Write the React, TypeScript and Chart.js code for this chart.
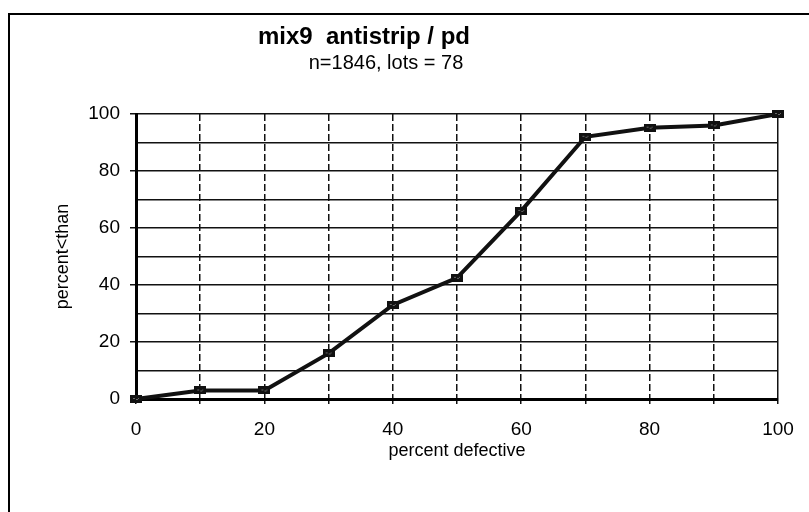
import React, { useEffect, useRef } from "react";
import { Chart, registerables } from "chart.js";

Chart.register(...registerables);

const chartTitle = "mix9  antistrip / pd";
const chartSubtitle = "n=1846, lots = 78";
const xAxisTitle = "percent defective";
const yAxisTitle = "percent<than";
const percentDefective = [0, 10, 20, 30, 40, 50, 60, 70, 80, 90, 100];
const percentLessThan = [0, 3, 3, 16, 33, 42.5, 66, 92, 95.2, 96, 100];
const labeledTicks = [0, 20, 40, 60, 80, 100];

const FONT = "'Liberation Sans', Arial, Helvetica, sans-serif";

function makeMarker(): HTMLCanvasElement {
  const c = document.createElement("canvas");
  c.width = 12;
  c.height = 8;
  const g = c.getContext("2d")!;
  g.fillStyle = "#111";
  g.fillRect(0, 0, 12, 8);
  g.fillStyle = "#666";
  g.fillRect(3, 3, 2, 1);
  g.fillRect(6, 4, 2, 1);
  g.fillRect(8, 3, 1, 1);
  return c;
}

export default function App() {
  const ref = useRef<HTMLCanvasElement | null>(null);

  useEffect(() => {
    if (!ref.current) return;
    const marker = makeMarker();
    const chart = new Chart(ref.current, {
      type: "line",
      data: {
        datasets: [
          {
            data: percentDefective.map((x, i) => ({ x, y: percentLessThan[i] })),
            borderColor: "#111",
            borderWidth: 4,
            pointStyle: marker as any,
            pointRadius: 6,
            tension: 0,
            clip: false as any,
          },
        ],
      },
      options: {
        responsive: false,
        animation: false,
        layout: { padding: { left: 0, right: 31, top: 114, bottom: 0 } },
        plugins: { legend: { display: false }, tooltip: { enabled: false }, title: { display: false } },
        scales: {
          x: {
            type: "linear",
            min: 0,
            max: 100,
            afterFit: (s: any) => {
              s.height = 113;
            },
            ticks: {
              stepSize: 10,
              color: "#000",
              padding: 14,
              maxRotation: 0,
              font: { family: FONT, size: 19 },
              callback: (v: any) => (labeledTicks.includes(Number(v)) ? String(v) : ""),
            },
            grid: {
              color: "#111",
              lineWidth: 1.5,
              tickLength: 5,
              tickColor: "#111",
            },
            border: {
              display: true,
              color: "#000",
              width: 3,
              dash: (ctx: any) => (ctx.tick && ctx.tick.value === 100 ? [] : [7, 3]),
            } as any,
            title: {
              display: true,
              text: xAxisTitle,
              color: "#000",
              font: { family: FONT, size: 18 },
              padding: { top: 0, bottom: 50 },
            },
          },
          y: {
            type: "linear",
            min: 0,
            max: 100,
            afterFit: (s: any) => {
              s.width = 136;
            },
            ticks: {
              stepSize: 10,
              color: "#000",
              padding: 10,
              font: { family: FONT, size: 19 },
              callback: (v: any) => (labeledTicks.includes(Number(v)) ? String(v) : ""),
            },
            grid: {
              color: "#111",
              lineWidth: 1.5,
              tickLength: 6,
              tickColor: (ctx: any) =>
                ctx.tick && labeledTicks.includes(ctx.tick.value) ? "#111" : "rgba(0,0,0,0)",
            },
            border: { display: true, color: "#000", width: 3 },
            title: {
              display: true,
              text: yAxisTitle,
              color: "#000",
              font: { family: FONT, size: 18 },
              padding: { top: 52, bottom: 0 },
            },
          },
        },
      },
    });
    return () => chart.destroy();
  }, []);

  return (
    <div style={{ position: "absolute", left: 0, top: 0, width: 809, height: 512, background: "#fff", overflow: "hidden" }}>
      <div
        style={{
          position: "absolute",
          left: 8,
          top: 13,
          width: 801,
          height: 499,
          borderTop: "2px solid #000",
          borderLeft: "2px solid #000",
          boxSizing: "border-box",
        }}
      />
      <canvas ref={ref} width={809} height={512} style={{ position: "absolute", left: 0, top: 0 }} />
      <div
        style={{
          position: "absolute",
          left: 0,
          top: 24,
          width: 728,
          textAlign: "center",
          fontFamily: FONT,
          fontWeight: "bold",
          fontSize: 24,
          lineHeight: "24px",
          whiteSpace: "pre",
          color: "#000",
        }}
      >
        {chartTitle}
      </div>
      <div
        style={{
          position: "absolute",
          left: 0,
          top: 52,
          width: 772,
          textAlign: "center",
          fontFamily: FONT,
          fontSize: 20,
          lineHeight: "20px",
          whiteSpace: "pre",
          color: "#000",
        }}
      >
        {chartSubtitle}
      </div>
    </div>
  );
}
